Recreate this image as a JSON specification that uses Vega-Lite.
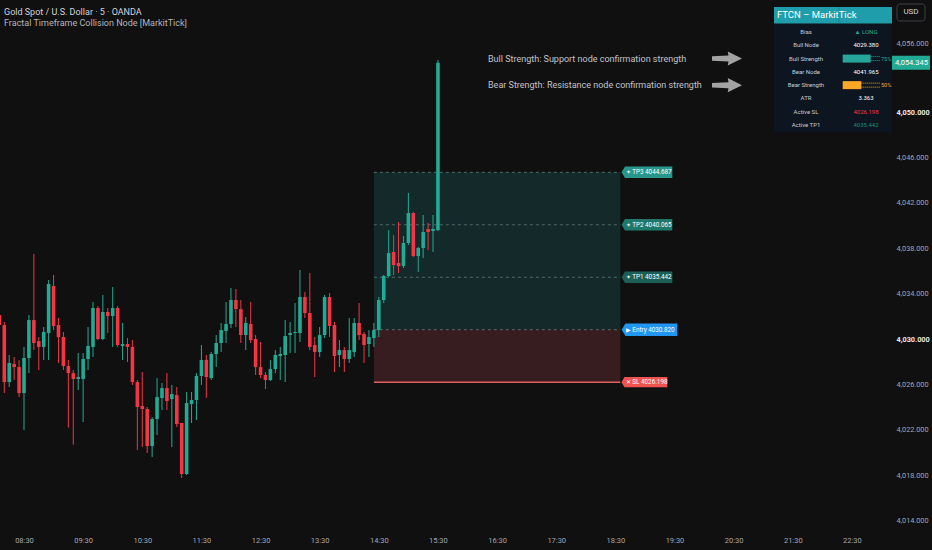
{
  "$schema": "https://vega.github.io/schema/vega-lite/v6.json",
  "width": 890,
  "height": 528,
  "padding": {"left": 0, "top": 0, "right": 42, "bottom": 22},
  "autosize": {"type": "none"},
  "background": "#101010",
  "config": {
    "view": {"stroke": null},
    "font": "Roboto, Liberation Sans, sans-serif",
    "axisX": {"ticks": false, "domain": false, "grid": false, "labelPadding": 8, "labelFlush": false, "labelFontSize": 7.5, "labelOverlap": false},
    "axisY": {"ticks": false, "domain": false, "grid": false, "labelPadding": 6, "labelFontSize": 7.3, "labelAlign": "left", "labelOverlap": false}
  },
  "datasets": {
    "candles": [
      {"min":485,"o":4032.11,"h":4033.26,"l":4030.79,"c":4031.23},
      {"min":490,"o":4031.23,"h":4031.50,"l":4025.24,"c":4026.21},
      {"min":495,"o":4026.21,"h":4028.59,"l":4025.77,"c":4027.89},
      {"min":500,"o":4027.80,"h":4028.42,"l":4026.39,"c":4027.53},
      {"min":505,"o":4027.53,"h":4028.15,"l":4024.89,"c":4025.24},
      {"min":510,"o":4025.24,"h":4029.30,"l":4021.98,"c":4028.33},
      {"min":515,"o":4028.33,"h":4032.11,"l":4027.00,"c":4031.67},
      {"min":520,"o":4031.67,"h":4037.50,"l":4029.03,"c":4029.65},
      {"min":525,"o":4029.82,"h":4030.18,"l":4027.27,"c":4029.30},
      {"min":530,"o":4029.30,"h":4031.06,"l":4028.15,"c":4030.62},
      {"min":535,"o":4030.53,"h":4035.20,"l":4028.15,"c":4034.85},
      {"min":540,"o":4034.67,"h":4035.64,"l":4030.79,"c":4031.15},
      {"min":545,"o":4031.23,"h":4031.85,"l":4027.89,"c":4030.18},
      {"min":550,"o":4030.18,"h":4030.62,"l":4027.27,"c":4027.62},
      {"min":555,"o":4027.62,"h":4028.15,"l":4022.20,"c":4027.00},
      {"min":560,"o":4027.00,"h":4027.27,"l":4020.70,"c":4026.48},
      {"min":565,"o":4026.48,"h":4028.77,"l":4025.51,"c":4026.65},
      {"min":570,"o":4026.48,"h":4028.77,"l":4022.69,"c":4028.24},
      {"min":575,"o":4028.24,"h":4031.06,"l":4027.27,"c":4029.39},
      {"min":580,"o":4029.30,"h":4033.26,"l":4028.42,"c":4032.73},
      {"min":585,"o":4032.73,"h":4032.91,"l":4029.91,"c":4030.00},
      {"min":590,"o":4030.00,"h":4033.88,"l":4029.91,"c":4032.38},
      {"min":595,"o":4032.38,"h":4032.73,"l":4030.53,"c":4032.03},
      {"min":600,"o":4032.03,"h":4034.58,"l":4029.30,"c":4032.73},
      {"min":605,"o":4032.73,"h":4032.91,"l":4029.30,"c":4029.47},
      {"min":610,"o":4029.39,"h":4031.41,"l":4028.15,"c":4029.56},
      {"min":615,"o":4029.56,"h":4030.09,"l":4027.97,"c":4029.30},
      {"min":620,"o":4029.30,"h":4029.91,"l":4025.95,"c":4026.21},
      {"min":625,"o":4026.21,"h":4026.39,"l":4020.22,"c":4024.01},
      {"min":630,"o":4024.10,"h":4027.09,"l":4020.48,"c":4023.83},
      {"min":635,"o":4023.83,"h":4024.01,"l":4019.96,"c":4020.57},
      {"min":640,"o":4020.57,"h":4023.13,"l":4019.60,"c":4022.95},
      {"min":645,"o":4022.95,"h":4026.56,"l":4021.54,"c":4024.89},
      {"min":650,"o":4024.80,"h":4026.12,"l":4023.74,"c":4025.68},
      {"min":655,"o":4025.68,"h":4027.00,"l":4023.74,"c":4024.54},
      {"min":660,"o":4024.71,"h":4025.95,"l":4020.48,"c":4025.15},
      {"min":665,"o":4025.06,"h":4025.77,"l":4022.25,"c":4022.51},
      {"min":670,"o":4022.60,"h":4022.60,"l":4017.75,"c":4018.11},
      {"min":675,"o":4018.11,"h":4025.33,"l":4018.02,"c":4024.36},
      {"min":680,"o":4024.27,"h":4025.33,"l":4022.60,"c":4024.63},
      {"min":685,"o":4024.63,"h":4027.00,"l":4022.86,"c":4026.74},
      {"min":690,"o":4026.74,"h":4029.47,"l":4025.95,"c":4028.15},
      {"min":695,"o":4028.15,"h":4028.59,"l":4024.80,"c":4026.65},
      {"min":700,"o":4026.56,"h":4028.86,"l":4026.39,"c":4028.68},
      {"min":705,"o":4028.68,"h":4030.35,"l":4027.53,"c":4029.65},
      {"min":710,"o":4029.65,"h":4031.41,"l":4028.86,"c":4030.79},
      {"min":715,"o":4030.71,"h":4033.26,"l":4029.65,"c":4031.32},
      {"min":720,"o":4031.32,"h":4034.49,"l":4030.97,"c":4033.44},
      {"min":725,"o":4033.44,"h":4034.41,"l":4031.06,"c":4032.64},
      {"min":730,"o":4032.64,"h":4033.44,"l":4029.65,"c":4030.35},
      {"min":735,"o":4030.35,"h":4031.94,"l":4029.03,"c":4031.41},
      {"min":740,"o":4031.32,"h":4033.26,"l":4029.65,"c":4029.91},
      {"min":745,"o":4030.00,"h":4030.35,"l":4026.83,"c":4027.53},
      {"min":750,"o":4027.53,"h":4029.74,"l":4026.56,"c":4026.83},
      {"min":755,"o":4026.83,"h":4027.09,"l":4025.59,"c":4026.39},
      {"min":760,"o":4026.39,"h":4028.15,"l":4026.30,"c":4027.36},
      {"min":765,"o":4027.36,"h":4029.03,"l":4027.00,"c":4028.59},
      {"min":770,"o":4028.50,"h":4029.30,"l":4026.39,"c":4028.68},
      {"min":775,"o":4028.59,"h":4031.67,"l":4026.21,"c":4030.26},
      {"min":780,"o":4030.35,"h":4031.50,"l":4028.77,"c":4030.53},
      {"min":785,"o":4030.53,"h":4033.17,"l":4028.77,"c":4030.62},
      {"min":790,"o":4030.53,"h":4036.08,"l":4029.74,"c":4033.70},
      {"min":795,"o":4033.70,"h":4034.14,"l":4031.85,"c":4032.29},
      {"min":800,"o":4032.29,"h":4035.82,"l":4029.03,"c":4029.30},
      {"min":805,"o":4029.47,"h":4030.18,"l":4026.65,"c":4028.86},
      {"min":810,"o":4028.86,"h":4031.06,"l":4028.42,"c":4030.35},
      {"min":815,"o":4030.35,"h":4033.88,"l":4030.09,"c":4033.70},
      {"min":820,"o":4033.70,"h":4034.05,"l":4030.18,"c":4031.15},
      {"min":825,"o":4031.23,"h":4031.50,"l":4027.09,"c":4028.50},
      {"min":830,"o":4028.59,"h":4029.91,"l":4027.53,"c":4029.03},
      {"min":835,"o":4029.03,"h":4029.30,"l":4027.09,"c":4028.24},
      {"min":840,"o":4028.24,"h":4031.85,"l":4027.89,"c":4029.03},
      {"min":845,"o":4028.86,"h":4031.85,"l":4028.42,"c":4031.41},
      {"min":850,"o":4031.41,"h":4033.17,"l":4029.91,"c":4030.35},
      {"min":855,"o":4030.44,"h":4030.62,"l":4027.89,"c":4029.47},
      {"min":860,"o":4029.56,"h":4030.79,"l":4028.42,"c":4030.18},
      {"min":865,"o":4030.09,"h":4031.41,"l":4029.30,"c":4030.79},
      {"min":870,"o":4030.79,"h":4033.70,"l":4030.18,"c":4033.44},
      {"min":875,"o":4033.44,"h":4035.64,"l":4033.17,"c":4035.55},
      {"min":880,"o":4035.55,"h":4039.60,"l":4035.46,"c":4037.58},
      {"min":885,"o":4037.67,"h":4039.16,"l":4035.64,"c":4036.52},
      {"min":890,"o":4036.70,"h":4040.31,"l":4035.82,"c":4036.43},
      {"min":895,"o":4036.43,"h":4039.07,"l":4036.26,"c":4038.46},
      {"min":900,"o":4038.46,"h":4042.87,"l":4038.28,"c":4041.10},
      {"min":905,"o":4041.10,"h":4041.19,"l":4037.23,"c":4037.31},
      {"min":910,"o":4037.31,"h":4038.11,"l":4035.91,"c":4038.02},
      {"min":915,"o":4038.02,"h":4040.93,"l":4037.14,"c":4039.43},
      {"min":920,"o":4039.69,"h":4040.22,"l":4037.84,"c":4039.43},
      {"min":925,"o":4039.52,"h":4040.93,"l":4037.67,"c":4039.69},
      {"min":930,"o":4039.60,"h":4054.60,"l":4039.50,"c":4054.345}
    ],
    "zones": [
      {"zone":"profit","start":865,"end":1115,"lo":4030.820,"hi":4044.687},
      {"zone":"risk","start":865,"end":1115,"lo":4026.198,"hi":4030.820}
    ],
    "levels": [
      {"kind":"TP3","label":"✦ TP3 4044.687","price":4044.687,"start":865,"end":1115},
      {"kind":"TP2","label":"✦ TP2 4040.065","price":4040.065,"start":865,"end":1115},
      {"kind":"TP1","label":"✦ TP1 4035.442","price":4035.442,"start":865,"end":1115},
      {"kind":"Entry","label":"▶ Entry 4030.820","price":4030.820,"start":865,"end":1115},
      {"kind":"SL","label":"✕ SL 4026.198","price":4026.198,"start":865,"end":1115}
    ],
    "last": [{"price": 4054.345, "min": 1388.65}],
    "rows": [
      {"row":0,"label":"Bias","value":"▲ LONG"},
      {"row":1,"label":"Bull Node","value":"4029.380"},
      {"row":2,"label":"Bull Strength","value":""},
      {"row":3,"label":"Bear Node","value":"4041.965"},
      {"row":4,"label":"Bear Strength","value":""},
      {"row":5,"label":"ATR","value":"3.363"},
      {"row":6,"label":"Active SL","value":"4026.198"},
      {"row":7,"label":"Active TP1","value":"4035.442"}
    ],
    "strength": [
      {"row":2,"label":"Bull Strength","strength":0.75},
      {"row":4,"label":"Bear Strength","strength":0.50}
    ],
    "notes": [
      {"row":2,"text":"Bull Strength: Support node confirmation strength"},
      {"row":4,"text":"Bear Strength: Resistance node confirmation strength"}
    ],
    "one": [{"k": 1}]
  },
  "layer": [
    {
      "layer": [
        {
          "data": {"name": "zones"},
          "mark": {"type": "rect"},
          "encoding": {
            "x": {"field": "start", "type": "quantitative",
                  "scale": {"domain": [485.65, 1388.65], "nice": false, "zero": false},
                  "axis": {"title": null, "labelOverlap": false,
                           "values": [510,540,570,600,630,660,690,720,750,780,810,840,870,900,930,960,990,1020,1050,1080,1110,1140,1170,1200,1230,1260,1290,1320,1350,1380],
                           "labelExpr": "utcFormat(datum.value * 60000, '%H:%M')",
                           "labelFontWeight": {"condition": {"test": "datum.value % 60 === 0", "value": "bold"}, "value": "normal"},
                           "labelColor": {"condition": {"test": "datum.value % 60 === 0", "value": "#e6e8ee"}, "value": "#a3a6af"}}},
            "x2": {"field": "end"},
            "y": {"field": "lo", "type": "quantitative",
                  "scale": {"domain": [4013.35, 4059.87], "nice": false, "zero": false},
                  "axis": {"title": null, "orient": "right", "format": ",.3f", "labelOverlap": false,
                           "values": [4014,4016,4018,4020,4022,4024,4026,4028,4030,4032,4034,4036,4038,4040,4042,4044,4046,4048,4050,4052,4056],
                           "labelFontWeight": {"condition": {"test": "datum.value % 10 === 0", "value": "bold"}, "value": "normal"},
                           "labelColor": {"condition": {"test": "datum.value % 10 === 0", "value": "#e6e8ee"}, "value": "#a3a6af"}}},
            "y2": {"field": "hi"},
            "fill": {"condition": {"test": "datum.zone === 'profit'", "value": "#14292a"}, "value": "#371d1f"}
          }
        },
        {
          "data": {"name": "levels"},
          "transform": [{"filter": "datum.kind !== 'SL'"}],
          "mark": {"type": "rule", "strokeDash": [3, 3], "strokeWidth": 1},
          "encoding": {
            "x": {"field": "start", "type": "quantitative"},
            "x2": {"field": "end"},
            "y": {"field": "price", "type": "quantitative"},
            "color": {"condition": {"test": "datum.kind === 'Entry'", "value": "#5f6a70"}, "value": "#4e6c66"}
          }
        },
        {
          "data": {"name": "levels"},
          "transform": [{"filter": "datum.kind === 'SL'"}],
          "mark": {"type": "rule", "strokeWidth": 1.6, "color": "#e0605f"},
          "encoding": {
            "x": {"field": "start", "type": "quantitative"},
            "x2": {"field": "end"},
            "y": {"field": "price", "type": "quantitative"}
          }
        },
        {
          "data": {"name": "candles"},
          "mark": {"type": "rule", "strokeWidth": 1, "clip": true},
          "encoding": {
            "x": {"field": "min", "type": "quantitative"},
            "y": {"field": "l", "type": "quantitative"},
            "y2": {"field": "h"},
            "color": {"condition": {"test": "datum.c >= datum.o", "value": "#22ab94"}, "value": "#f23645"}
          }
        },
        {
          "data": {"name": "candles"},
          "mark": {"type": "rule", "strokeWidth": 3.6, "clip": true},
          "encoding": {
            "x": {"field": "min", "type": "quantitative"},
            "y": {"field": "o", "type": "quantitative"},
            "y2": {"field": "c"},
            "color": {"condition": {"test": "datum.c >= datum.o", "value": "#22ab94"}, "value": "#f23645"}
          }
        },
        {
          "data": {"name": "levels"},
          "mark": {"type": "point", "filled": true, "opacity": 1, "strokeWidth": 0,
                   "shape": "M0.05,0 L0.18,-0.22 L2,-0.22 L2,0.22 L0.18,0.22 Z"},
          "encoding": {
            "x": {"field": "end", "type": "quantitative"},
            "y": {"field": "price", "type": "quantitative"},
            "size": {"condition": [{"test": "datum.kind === 'Entry'", "value": 3249}, {"test": "datum.kind === 'SL'", "value": 2209}], "value": 2704},
            "fill": {"condition": [
              {"test": "datum.kind === 'TP3'", "value": "#26978a"},
              {"test": "datum.kind === 'TP2'", "value": "#1f786c"},
              {"test": "datum.kind === 'TP1'", "value": "#1c5f56"},
              {"test": "datum.kind === 'Entry'", "value": "#2196f3"}
            ], "value": "#ef5350"}
          }
        },
        {
          "data": {"name": "levels"},
          "mark": {"type": "text", "align": "left", "baseline": "middle", "dx": 5.5, "fontSize": 6.3, "color": "#ffffff"},
          "encoding": {
            "x": {"field": "end", "type": "quantitative"},
            "y": {"field": "price", "type": "quantitative"},
            "text": {"field": "label", "type": "nominal"}
          }
        },
        {
          "data": {"name": "last"},
          "mark": {"type": "point", "filled": true, "opacity": 1, "strokeWidth": 0, "size": 1600, "fill": "#22ab94",
                   "shape": "M0.1,-0.35 L2,-0.35 L2,0.35 L0.1,0.35 Z"},
          "encoding": {
            "x": {"field": "min", "type": "quantitative"},
            "y": {"field": "price", "type": "quantitative"}
          }
        },
        {
          "data": {"name": "last"},
          "mark": {"type": "text", "align": "left", "baseline": "middle", "dx": 5, "fontSize": 7.5, "color": "#ffffff"},
          "encoding": {
            "x": {"field": "min", "type": "quantitative"},
            "y": {"field": "price", "type": "quantitative"},
            "text": {"field": "price", "type": "quantitative", "format": ",.3f"}
          }
        }
      ]
    },
    {
      "layer": [
        {
          "data": {"name": "one"},
          "mark": {"type": "rect", "fill": "#0c1520"},
          "encoding": {
            "x": {"datum": -1.842, "type": "quantitative", "scale": {"domain": [0, 1], "range": [842.7, 880], "nice": false, "zero": false}, "axis": null},
            "x2": {"datum": 1.322},
            "y": {"datum": -0.6, "type": "quantitative", "scale": {"domain": [0, 7], "range": [32, 125], "nice": false, "zero": false}, "axis": null},
            "y2": {"datum": 7.53}
          }
        },
        {
          "data": {"name": "one"},
          "mark": {"type": "rect", "fill": "#1f9dab"},
          "encoding": {
            "x": {"datum": -1.842, "type": "quantitative", "axis": null},
            "x2": {"datum": 1.322},
            "y": {"datum": -1.88, "type": "quantitative", "axis": null},
            "y2": {"datum": -0.64}
          }
        },
        {
          "data": {"name": "one"},
          "mark": {"type": "rect", "fill": "#178894"},
          "encoding": {
            "x": {"datum": -0.11, "type": "quantitative", "axis": null},
            "x2": {"datum": -0.09},
            "y": {"datum": -1.88, "type": "quantitative", "axis": null},
            "y2": {"datum": -0.64}
          }
        },
        {
          "data": {"name": "one"},
          "mark": {"type": "text", "align": "left", "baseline": "middle", "fontSize": 9.5, "color": "#ffffff", "text": "FTCN – MarkitTick"},
          "encoding": {
            "x": {"datum": -1.762, "type": "quantitative", "axis": null},
            "y": {"datum": -1.26, "type": "quantitative", "axis": null}
          }
        },
        {
          "data": {"name": "one"},
          "mark": {"type": "text", "align": "left", "baseline": "middle", "fontSize": 9, "color": "#d1d4dc", "text": "Gold Spot / U.S. Dollar · 5 · OANDA"},
          "encoding": {
            "x": {"datum": -22.485, "type": "quantitative", "axis": null},
            "y": {"datum": -1.528, "type": "quantitative", "axis": null}
          }
        },
        {
          "data": {"name": "one"},
          "mark": {"type": "text", "align": "left", "baseline": "middle", "fontSize": 9, "color": "#b2b5be", "text": "Fractal Timeframe Collision Node [MarkitTick]"},
          "encoding": {
            "x": {"datum": -22.485, "type": "quantitative", "axis": null},
            "y": {"datum": -0.655, "type": "quantitative", "axis": null}
          }
        },
        {
          "data": {"name": "rows"},
          "mark": {"type": "text", "align": "center", "baseline": "middle", "fontSize": 6, "color": "#c9ccd4"},
          "encoding": {
            "x": {"datum": -0.984, "type": "quantitative", "axis": null},
            "y": {"field": "row", "type": "quantitative", "axis": null},
            "text": {"field": "label", "type": "nominal"}
          }
        },
        {
          "data": {"name": "rows"},
          "mark": {"type": "text", "align": "center", "baseline": "middle", "fontSize": 6},
          "encoding": {
            "x": {"datum": 0.625, "type": "quantitative", "axis": null},
            "y": {"field": "row", "type": "quantitative", "axis": null},
            "text": {"field": "value", "type": "nominal"},
            "color": {"condition": [
              {"test": "datum.label === 'Bias'", "value": "#22ab94"},
              {"test": "datum.label === 'Active SL'", "value": "#f23645"},
              {"test": "datum.label === 'Active TP1'", "value": "#1e8c74"}
            ], "value": "#ffffff"}
          }
        },
        {
          "data": {"name": "strength"},
          "mark": {"type": "rule", "strokeWidth": 8},
          "encoding": {
            "x": {"field": "strength", "type": "quantitative", "axis": null},
            "x2": {"datum": 0},
            "y": {"field": "row", "type": "quantitative", "axis": null},
            "color": {"condition": {"test": "datum.label === 'Bull Strength'", "value": "#26a69a"}, "value": "#f9a825"}
          }
        },
        {
          "data": {"name": "strength"},
          "mark": {"type": "rule", "strokeWidth": 1, "strokeDash": [1, 1], "yOffset": -2},
          "encoding": {
            "x": {"field": "strength", "type": "quantitative", "axis": null},
            "x2": {"datum": 1},
            "y": {"field": "row", "type": "quantitative", "axis": null},
            "color": {"condition": {"test": "datum.label === 'Bull Strength'", "value": "#26a69a"}, "value": "#f9a825"}
          }
        },
        {
          "data": {"name": "strength"},
          "mark": {"type": "rule", "strokeWidth": 1, "strokeDash": [1, 1], "yOffset": 2},
          "encoding": {
            "x": {"field": "strength", "type": "quantitative", "axis": null},
            "x2": {"datum": 1},
            "y": {"field": "row", "type": "quantitative", "axis": null},
            "color": {"condition": {"test": "datum.label === 'Bull Strength'", "value": "#26a69a"}, "value": "#f9a825"}
          }
        },
        {
          "data": {"name": "strength"},
          "mark": {"type": "text", "align": "left", "baseline": "middle", "fontSize": 5.5},
          "encoding": {
            "x": {"datum": 1.027, "type": "quantitative", "axis": null},
            "y": {"field": "row", "type": "quantitative", "axis": null},
            "text": {"field": "strength", "type": "quantitative", "format": ".0%"},
            "color": {"condition": {"test": "datum.label === 'Bull Strength'", "value": "#26a69a"}, "value": "#f9a825"}
          }
        },
        {
          "data": {"name": "notes"},
          "mark": {"type": "text", "align": "left", "baseline": "middle", "fontSize": 9, "color": "#c2c4ca"},
          "encoding": {
            "x": {"datum": -9.509, "type": "quantitative", "axis": null},
            "y": {"field": "row", "type": "quantitative", "axis": null},
            "text": {"field": "text", "type": "nominal"}
          }
        },
        {
          "data": {"name": "notes"},
          "mark": {"type": "point", "filled": true, "opacity": 1, "strokeWidth": 0, "size": 900, "fill": "#a3a3a3",
                   "shape": "M-1,-0.15 L0.1,-0.2 L0.05,-0.47 L1,0 L0.05,0.47 L0.1,0.2 L-1,0.15 Z"},
          "encoding": {
            "x": {"datum": -3.102, "type": "quantitative", "axis": null},
            "y": {"field": "row", "type": "quantitative", "axis": null}
          }
        },
        {
          "data": {"name": "one"},
          "mark": {"type": "rect", "fill": "#101010", "stroke": "#3d4049", "strokeWidth": 1, "cornerRadius": 3},
          "encoding": {
            "x": {"datum": 1.456, "type": "quantitative", "axis": null},
            "x2": {"datum": 2.206},
            "y": {"datum": -2.107, "type": "quantitative", "axis": null},
            "y2": {"datum": -0.828}
          }
        },
        {
          "data": {"name": "one"},
          "mark": {"type": "text", "align": "center", "baseline": "middle", "fontSize": 8, "color": "#d1d4dc", "text": "USD"},
          "encoding": {
            "x": {"datum": 1.831, "type": "quantitative", "axis": null},
            "y": {"datum": -1.47, "type": "quantitative", "axis": null}
          }
        }
      ]
    }
  ],
  "resolve": {
    "scale": {"x": "independent", "y": "independent"},
    "axis": {"x": "independent", "y": "independent"}
  }
}
